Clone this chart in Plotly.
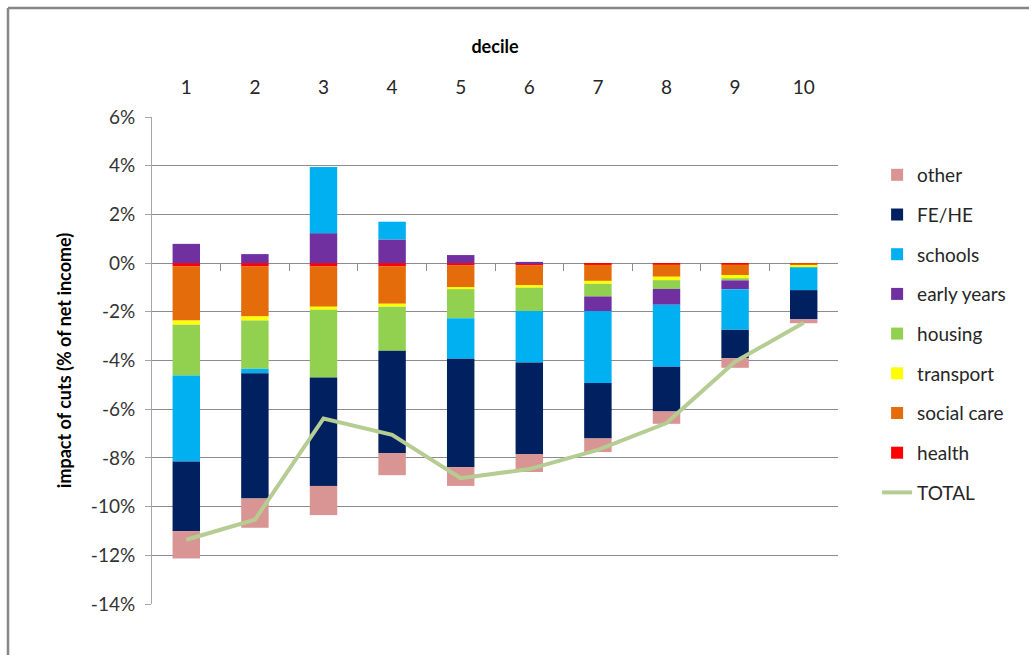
import plotly.graph_objects as go

deciles = ["1", "2", "3", "4", "5", "6", "7", "8", "9", "10"]

health = [-0.14, -0.14, -0.14, -0.14, -0.10, -0.10, -0.07, -0.06, -0.06, -0.01]
social_care = [-2.22, -2.05, -1.65, -1.53, -0.89, -0.80, -0.66, -0.50, -0.43, -0.10]
transport = [-0.17, -0.17, -0.13, -0.12, -0.08, -0.11, -0.12, -0.14, -0.13, -0.06]
housing = [-2.09, -1.98, -2.78, -1.81, -1.19, -0.96, -0.52, -0.36, -0.09, 0.0]
early_years = [0.79, 0.37, 1.23, 0.97, 0.33, 0.05, -0.60, -0.65, -0.36, 0.0]
schools = [-3.53, -0.18, 2.72, 0.73, -1.67, -2.11, -2.95, -2.55, -1.67, -0.94]
fe_he = [-2.86, -5.15, -4.45, -4.20, -4.45, -3.76, -2.28, -1.83, -1.16, -1.20]
other = [-1.12, -1.20, -1.20, -0.91, -0.77, -0.74, -0.56, -0.51, -0.40, -0.16]
total = [-11.36, -10.54, -6.38, -7.05, -8.83, -8.46, -7.67, -6.57, -4.05, -2.45]

y_ticks = [6, 4, 2, 0, -2, -4, -6, -8, -10, -12, -14]
y_tick_labels = ["6%", "4%", "2%", "0%", "-2%", "-4%", "-6%", "-8%", "-10%", "-12%", "-14%"]
boundary_ticks = [1.5, 2.5, 3.5, 4.5, 5.5, 6.5, 7.5, 8.5, 9.5]

# (name, values, colour, legend rank)
series = [
    ("health", health, "#FF0000", 8),
    ("social care", social_care, "#E46C0A", 7),
    ("transport", transport, "#FFFF00", 6),
    ("housing", housing, "#92D050", 5),
    ("early years", early_years, "#7030A0", 4),
    ("schools", schools, "#00B0F0", 3),
    ("FE/HE", fe_he, "#002060", 2),
    ("other", other, "#D99594", 1),
]

FONT = "Lato, 'Open Sans', sans-serif"
GRID = "#8C8C8C"

fig = go.Figure()
for name, vals, col, rank in series:
    fig.add_trace(go.Bar(
        x=deciles, y=vals, name=name, marker=dict(color=col, line=dict(width=0)),
        legendgroup=name, legendrank=rank,
    ))
fig.add_trace(go.Scatter(
    x=deciles, y=total, name="TOTAL", mode="lines",
    line=dict(color="#B5CC92", width=4), legendgroup="TOTAL", legendrank=9,
))
# helper trace so the zero-line axis with boundary ticks is drawn
fig.add_trace(go.Scatter(x=[], y=[], xaxis="x2", yaxis="y", showlegend=False, hoverinfo="skip"))

fig.update_layout(
    width=1029, height=655, autosize=False,
    margin=dict(l=152, r=191, t=117, b=51),
    paper_bgcolor="white", plot_bgcolor="white",
    barmode="relative", bargap=0.6,
    font=dict(family=FONT, size=18, color="#333333"),
    showlegend=True,
    legend=dict(
        x=1.057, xanchor="left", y=0.92, yanchor="top",
        traceorder="grouped", tracegroupgap=12,
        font=dict(family=FONT, size=19, color="#262626"),
        bgcolor="rgba(0,0,0,0)",
    ),
    xaxis=dict(
        type="category", categoryarray=deciles, range=[-0.5, 9.5],
        side="top", showgrid=False, showline=False, ticks="", zeroline=False,
        ticklabelstandoff=18, automargin=False,
        tickfont=dict(family=FONT, size=19, color="#262626"),
        title=dict(text="<b>decile</b>", standoff=16,
                   font=dict(family=FONT, size=18, color="#000000")),
    ),
    xaxis2=dict(
        overlaying="x", anchor="free", position=0.7, side="bottom",
        type="linear", range=[0.5, 10.5],
        tickvals=boundary_ticks, ticks="outside", ticklen=7, tickcolor=GRID, tickwidth=1,
        showticklabels=False, showline=True, linecolor=GRID, linewidth=1,
        showgrid=False, zeroline=False, layer="below traces", automargin=False,
    ),
    yaxis=dict(
        range=[-14, 6], tickvals=y_ticks, ticktext=y_tick_labels,
        showgrid=True, gridcolor=GRID, gridwidth=1, zeroline=False,
        showline=True, linecolor="#A6A6A6", linewidth=1,
        ticks="outside", ticklen=6, tickcolor="#A6A6A6",
        ticklabelstandoff=6, automargin=False,
        tickfont=dict(family=FONT, size=19, color="#333333"),
        title=dict(text="<b>impact of cuts (% of net income)</b>", standoff=14,
                   font=dict(family=FONT, size=18, color="#000000")),
    ),
    shapes=[
        dict(type="line", xref="paper", yref="paper", x0=-0.2099, x1=1.3, y0=1.2238, y1=1.2238,
             line=dict(color="#868686", width=2.5)),
        dict(type="line", xref="paper", yref="paper", x0=-0.2099, x1=-0.2099, y0=1.2238, y1=-0.2,
             line=dict(color="#868686", width=2.5)),
    ],
)

fig.write_html("out.html", config={"displayModeBar": False},
               post_script="document.body.style.margin='0px';")
